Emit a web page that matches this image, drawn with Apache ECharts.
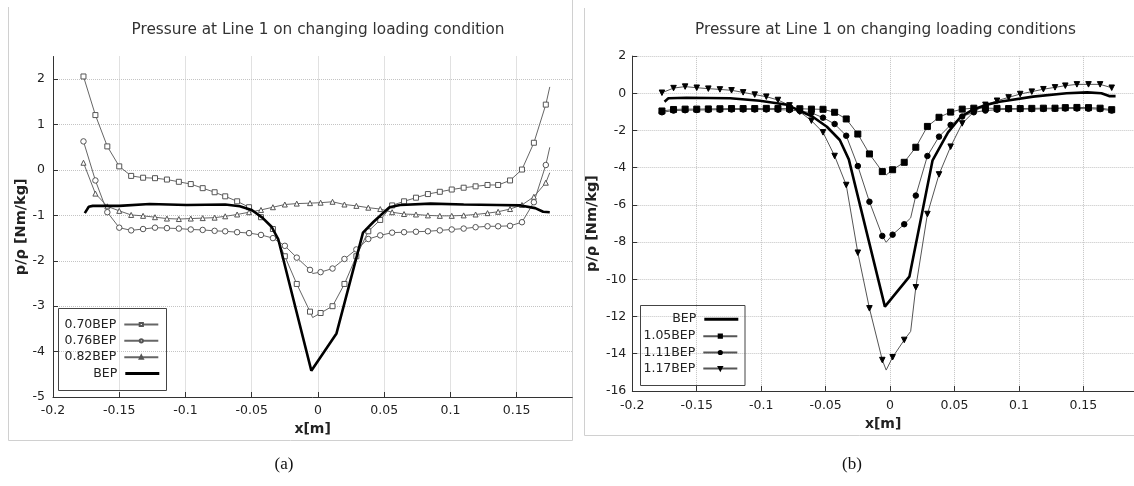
<!DOCTYPE html>
<html>
<head>
<meta charset="utf-8">
<script src="https://cdn.jsdelivr.net/npm/echarts@6/dist/echarts.min.js"></script>
<style>
html,body{margin:0;padding:0;background:#fff;}
#chart{width:1134px;height:486px;}
</style>
</head>
<body>
<div id="chart"></div>
<script>
// ---------- DATA ----------
// x positions of the marked mesh points (shared by all marked series)
const xPos = [-0.177,-0.168,-0.159,-0.150,-0.141,-0.132,-0.123,-0.114,-0.105,-0.096,
              -0.087,-0.078,-0.070,-0.061,-0.052,-0.043,-0.034,-0.025,-0.016,-0.006,
               0.002, 0.011, 0.020, 0.029, 0.038, 0.047, 0.056, 0.065, 0.074, 0.083,
               0.092, 0.101, 0.110, 0.119, 0.128, 0.136, 0.145, 0.154, 0.163, 0.172];

// Panel (a)
const y070 = [2.06,1.21,0.52,0.08,-0.13,-0.17,-0.18,-0.21,-0.26,-0.31,
              -0.40,-0.49,-0.58,-0.69,-0.82,-1.04,-1.30,-1.90,-2.51,-3.12,
              -3.15,-3.00,-2.51,-1.90,-1.35,-1.10,-0.78,-0.69,-0.61,-0.53,
              -0.48,-0.43,-0.39,-0.36,-0.33,-0.33,-0.23,0.01,0.60,1.44];
const y076 = [0.63,-0.23,-0.93,-1.27,-1.33,-1.30,-1.27,-1.28,-1.29,-1.31,
              -1.32,-1.34,-1.35,-1.37,-1.39,-1.43,-1.50,-1.67,-1.93,-2.20,
              -2.25,-2.17,-1.96,-1.75,-1.52,-1.44,-1.38,-1.37,-1.36,-1.35,
              -1.33,-1.31,-1.29,-1.26,-1.24,-1.24,-1.23,-1.15,-0.71,0.11];
const y082 = [0.16,-0.52,-0.80,-0.90,-0.99,-1.01,-1.04,-1.07,-1.08,-1.07,
              -1.06,-1.05,-1.02,-0.98,-0.93,-0.88,-0.82,-0.76,-0.74,-0.73,
              -0.72,-0.70,-0.76,-0.79,-0.83,-0.86,-0.93,-0.97,-0.98,-1.00,
              -1.01,-1.01,-1.00,-0.98,-0.95,-0.92,-0.86,-0.77,-0.59,-0.28];
// unmarked line points (curve vertices / ends)
const ext070 = [[-0.004,-3.25],[0.175,1.83]];
const ext076 = [[-0.004,-2.28],[0.175,0.50]];
const ext082 = [[0.175,-0.06]];
const bepA = [[-0.176,-0.95],[-0.173,-0.81],[-0.170,-0.79],[-0.150,-0.79],[-0.127,-0.75],
              [-0.099,-0.77],[-0.070,-0.76],[-0.059,-0.80],[-0.050,-0.88],[-0.042,-1.05],
              [-0.035,-1.25],[-0.030,-1.52],[-0.005,-4.42],[0.014,-3.60],[0.034,-1.38],
              [0.042,-1.14],[0.054,-0.82],[0.062,-0.77],[0.085,-0.74],[0.110,-0.76],
              [0.135,-0.77],[0.153,-0.78],[0.164,-0.84],[0.170,-0.92],[0.175,-0.93]];

// Panel (b)
const y105 = [-0.95,-0.87,-0.85,-0.85,-0.84,-0.83,-0.82,-0.82,-0.82,-0.81,
              -0.82,-0.82,-0.83,-0.85,-0.86,-1.02,-1.38,-2.19,-3.26,-4.21,
              -4.11,-3.71,-2.90,-1.78,-1.29,-1.01,-0.85,-0.80,-0.80,-0.81,
              -0.82,-0.82,-0.81,-0.80,-0.80,-0.77,-0.76,-0.77,-0.80,-0.88];
const y111 = [-1.02,-0.93,-0.91,-0.90,-0.89,-0.88,-0.87,-0.87,-0.87,-0.87,
              -0.88,-0.90,-0.95,-1.05,-1.31,-1.65,-2.28,-3.91,-5.83,-7.67,
              -7.60,-7.04,-5.50,-3.37,-2.33,-1.70,-1.25,-1.02,-0.93,-0.88,
              -0.86,-0.85,-0.85,-0.84,-0.83,-0.82,-0.82,-0.83,-0.85,-0.93];
const y117 = [0.03,0.28,0.36,0.30,0.25,0.21,0.16,0.05,-0.07,-0.18,
              -0.36,-0.65,-0.99,-1.47,-2.10,-3.37,-4.93,-8.57,-11.56,-14.34,
              -14.19,-13.26,-10.43,-6.49,-4.36,-2.87,-1.62,-1.00,-0.62,-0.40,
              -0.22,-0.04,0.09,0.22,0.32,0.41,0.48,0.48,0.48,0.30];
const ext105 = [[-0.003,-4.39]];
const ext111 = [[-0.003,-8.01],[0.016,-6.70]];
const ext117 = [[-0.003,-14.88],[0.016,-12.80]];
const bepB = [[-0.175,-0.45],[-0.172,-0.27],[-0.158,-0.24],[-0.124,-0.27],[-0.101,-0.40],
              [-0.080,-0.62],[-0.060,-1.26],[-0.049,-1.80],[-0.039,-2.51],[-0.032,-3.55],
              [-0.004,-11.47],[0.015,-9.86],[0.033,-3.60],[0.045,-2.10],[0.055,-1.25],
              [0.065,-0.85],[0.075,-0.62],[0.085,-0.45],[0.111,-0.18],[0.137,0.00],
              [0.153,0.05],[0.164,0.00],[0.170,-0.15],[0.175,-0.15]];

const namesA = ['0.70BEP','0.76BEP','0.82BEP','BEP'];
const namesB = ['BEP','1.05BEP','1.11BEP','1.17BEP'];
const titleA = 'Pressure at Line 1 on changing loading condition';
const titleB = 'Pressure at Line 1 on changing loading conditions';
const yName = 'p/\u03c1 [Nm/kg]';
const xName = 'x[m]';

// ---------- BUILD ----------
const FF = '"DejaVu Sans", Verdana, sans-serif';
function build(ys, extra) {
  const pts = xPos.map((x, i) => ({ value: [x, ys[i]] }));
  extra.forEach(p => pts.push({ value: [p[0], p[1]], symbol: 'none' }));
  pts.sort((a, b) => a.value[0] - b.value[0]);
  return pts;
}

function gridLine(showMax) {
  return { show: true, showMaxLine: showMax, lineStyle: { type: 'dotted', color: '#c4c4c4', width: 1 } };
}
function xAx(gi, max, margin, gap) {
  return {
    gridIndex: gi, type: 'value', min: -0.2, max: max, interval: 0.05,
    name: xName, nameLocation: 'middle', nameGap: gap,
    nameTextStyle: { fontFamily: FF, fontWeight: 'bold', fontSize: 14, color: '#222' },
    axisLine: { show: true, onZero: false, lineStyle: { color: '#333', width: 1 } },
    axisTick: { show: true, inside: true, length: 5, lineStyle: { color: '#333' } },
    axisLabel: { showMaxLabel: false, margin: margin, fontFamily: FF, fontSize: 12.5, color: '#222' },
    splitLine: gridLine(false)
  };
}
function yAx(gi, min, max, interval, margin, gap, showMax) {
  return {
    gridIndex: gi, type: 'value', min: min, max: max, interval: interval,
    name: yName, nameLocation: 'middle', nameGap: gap, nameRotate: 90,
    nameTextStyle: { fontFamily: FF, fontWeight: 'bold', fontSize: 14.5, color: '#222' },
    axisLine: { show: true, onZero: false, lineStyle: { color: '#333', width: 1 } },
    axisTick: { show: true, inside: true, length: 5, lineStyle: { color: '#333' } },
    axisLabel: { showMaxLabel: showMax, margin: margin, fontFamily: FF, fontSize: 12.5, color: '#222' },
    splitLine: gridLine(showMax)
  };
}

function markSeries(name, gi, data, symbol, size, fill, stroke, lineColor, rotate) {
  return {
    name: name, type: 'line', xAxisIndex: gi, yAxisIndex: gi, data: data,
    symbol: symbol, symbolSize: size, symbolRotate: rotate || 0, showSymbol: true,
    itemStyle: { color: fill, borderColor: stroke, borderWidth: 1 },
    lineStyle: { color: lineColor, width: 1 },
    emphasis: { disabled: true }, z: 3
  };
}
function bepSeries(name, gi, data) {
  return {
    name: name, type: 'line', xAxisIndex: gi, yAxisIndex: gi, data: data,
    symbol: 'none', showSymbol: false,
    itemStyle: { color: '#000' },
    lineStyle: { color: '#000', width: 2.6 },
    emphasis: { disabled: true }, z: 4
  };
}

// panel (b) BEP gets a trailing space internally so each panel's legend refers to its own series
const series = [
  markSeries('0.70BEP', 0, build(y070, ext070), 'rect', 5, '#fff', '#555', '#666'),
  markSeries('0.76BEP', 0, build(y076, ext076), 'circle', 5.5, '#fff', '#555', '#666'),
  markSeries('0.82BEP', 0, build(y082, ext082), 'triangle', 5, '#fff', '#555', '#666'),
  bepSeries('BEP', 0, bepA),
  bepSeries('BEP ', 1, bepB),
  markSeries('1.05BEP', 1, build(y105, ext105), 'rect', 6, '#000', '#000', '#555'),
  markSeries('1.11BEP', 1, build(y111, ext111), 'circle', 5.5, '#000', '#000', '#555'),
  markSeries('1.17BEP', 1, build(y117, ext117), 'triangle', 5.5, '#000', '#000', '#555', 180)
];

function legendItem(name, rightPx, cy, iconW) {
  const isBep = name.trim() === 'BEP';
  const h = isBep ? 3 : 4;
  const lg = {
    show: true, data: [name], orient: 'vertical', align: 'right',
    right: rightPx, top: cy - 8, padding: 0, itemGap: 0,
    itemWidth: iconW, itemHeight: h, selectedMode: false,
    formatter: n => n.trim(),
    textStyle: { fontFamily: FF, fontSize: 12.5, color: '#222', padding: [0, 3, 0, 0] }
  };
  if (isBep) { lg.icon = 'rect'; lg.itemStyle = { color: '#000', borderWidth: 0 }; }
  return lg;
}
const legA_cy = [326, 342.3, 358.7, 375];
const legB_cy = [320.7, 337.7, 354, 370];
const legends = [];
namesA.forEach((n, i) => legends.push(legendItem(n, 1134 - 159.3, legA_cy[i], 34)));
namesB.forEach((n, i) => legends.push(legendItem(n === 'BEP' ? 'BEP ' : n, 1134 - 738.3, legB_cy[i], 34)));

const option = {
  animation: false,
  backgroundColor: '#fff',
  grid: [
    { left: 53, top: 56.5, width: 519.3, height: 340.5 },
    { left: 632.3, top: 56.1, width: 501.7, height: 334.8 }
  ],
  xAxis: [xAx(0, 0.192, 7, 24), xAx(1, 0.1893, 8, 26)],
  yAxis: [yAx(0, -5, 2.5, 1, 8, 24, false), yAx(1, -16, 2, 2, 6, 33, true)],
  legend: legends,
  series: series,
  graphic: [
    { type: 'polyline', shape: { points: [[8.5, 7], [8.5, 440.5], [572.5, 440.5], [572.5, 0]] },
      style: { stroke: '#d0d0d0', lineWidth: 1, fill: null }, silent: true },
    { type: 'polyline', shape: { points: [[584.5, 8], [584.5, 435.5], [1134, 435.5]] },
      style: { stroke: '#d0d0d0', lineWidth: 1, fill: null }, silent: true },
    { type: 'rect', shape: { x: 58.5, y: 308.5, width: 108, height: 82 },
      style: { stroke: '#444', lineWidth: 1, fill: 'transparent' }, silent: true, z: 10 },
    { type: 'rect', shape: { x: 640.5, y: 305.5, width: 104.5, height: 80 },
      style: { stroke: '#444', lineWidth: 1, fill: 'transparent' }, silent: true, z: 10 },
    { type: 'text', x: 318, y: 30, silent: true,
      style: { text: titleA, font: '15.3px ' + FF, fill: '#333', align: 'center', verticalAlign: 'middle' } },
    { type: 'text', x: 885.5, y: 30, silent: true,
      style: { text: titleB, font: '15.3px ' + FF, fill: '#333', align: 'center', verticalAlign: 'middle' } },
    { type: 'text', x: 284, y: 465, silent: true,
      style: { text: '(a)', font: '17px "Liberation Serif", "Times New Roman", serif', fill: '#111', align: 'center', verticalAlign: 'middle' } },
    { type: 'text', x: 852, y: 465, silent: true,
      style: { text: '(b)', font: '17px "Liberation Serif", "Times New Roman", serif', fill: '#111', align: 'center', verticalAlign: 'middle' } }
  ]
};

const chart = echarts.init(document.getElementById('chart'), null, { renderer: 'canvas' });
chart.setOption(option);
</script>
</body>
</html>
